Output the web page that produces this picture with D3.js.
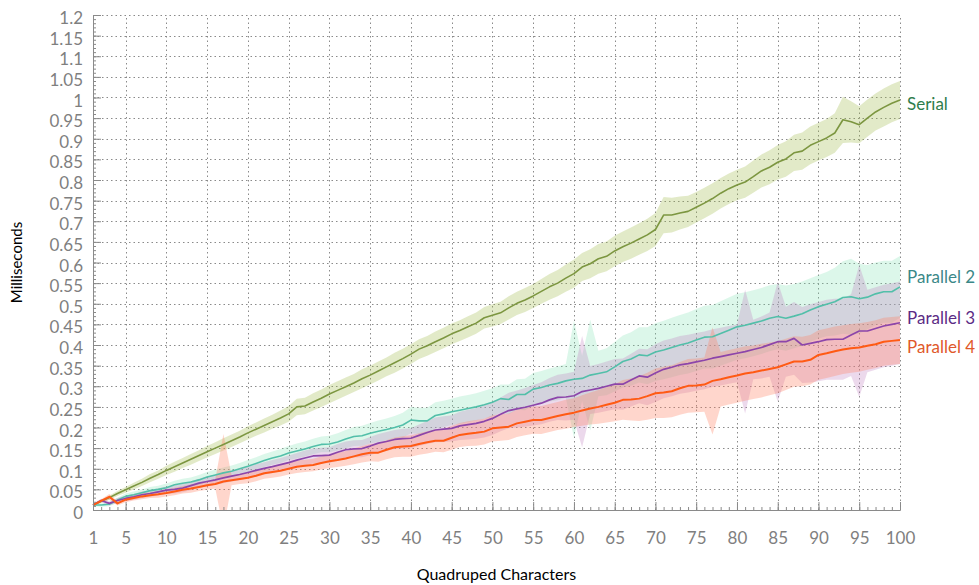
<!DOCTYPE html>
<html>
<head>
<meta charset="utf-8">
<script src="https://cdn.jsdelivr.net/npm/d3@7"></script>
<style>
  body { margin: 0; background: #fff; }
  svg.chart text { font-family: Lato, "Open Sans", sans-serif; }
</style>
</head>
<body>
<svg class="chart"></svg>
<script>
// Input sizes (x axis)
const sizes = d3.range(1, 101);

// Mean times in ms, one per size
const serialMs = [
  0.012,0.021,0.030,0.040,0.049,0.058,0.067,0.077,0.086,0.096,
  0.105,0.114,0.123,0.132,0.141,0.150,0.159,0.168,0.177,0.187,
  0.196,0.205,0.214,0.223,0.233,0.250,0.252,0.262,0.271,0.281,
  0.290,0.299,0.308,0.318,0.327,0.337,0.347,0.357,0.367,0.378,
  0.390,0.398,0.408,0.417,0.427,0.435,0.444,0.453,0.466,0.472,
  0.478,0.490,0.501,0.509,0.519,0.530,0.541,0.550,0.562,0.573,
  0.589,0.597,0.609,0.615,0.628,0.638,0.647,0.657,0.667,0.680,
  0.715,0.715,0.720,0.724,0.734,0.744,0.755,0.768,0.779,0.788,
  0.795,0.808,0.822,0.831,0.843,0.851,0.866,0.870,0.884,0.893,
  0.902,0.914,0.946,0.941,0.934,0.950,0.965,0.976,0.986,0.994
];
const parallel2Ms = [
  0.012,0.012,0.014,0.024,0.033,0.037,0.042,0.047,0.050,0.054,
  0.061,0.065,0.068,0.073,0.080,0.085,0.090,0.094,0.100,0.106,
  0.113,0.120,0.126,0.131,0.138,0.143,0.148,0.154,0.159,0.160,
  0.165,0.172,0.178,0.180,0.186,0.191,0.195,0.200,0.206,0.218,
  0.216,0.216,0.229,0.233,0.238,0.242,0.246,0.250,0.255,0.261,
  0.270,0.268,0.280,0.280,0.293,0.297,0.303,0.307,0.313,0.317,
  0.319,0.327,0.331,0.335,0.347,0.360,0.366,0.376,0.374,0.383,
  0.388,0.394,0.400,0.405,0.412,0.419,0.420,0.428,0.436,0.444,
  0.448,0.453,0.458,0.465,0.469,0.465,0.470,0.476,0.485,0.493,
  0.499,0.505,0.515,0.517,0.512,0.516,0.524,0.529,0.529,0.541
];
const parallel3Ms = [
  0.012,0.023,0.016,0.023,0.028,0.032,0.037,0.040,0.044,0.048,
  0.050,0.053,0.059,0.065,0.069,0.073,0.078,0.082,0.086,0.091,
  0.096,0.101,0.105,0.110,0.115,0.121,0.126,0.131,0.132,0.133,
  0.140,0.146,0.148,0.149,0.155,0.162,0.166,0.171,0.173,0.174,
  0.181,0.188,0.194,0.196,0.198,0.204,0.207,0.210,0.215,0.222,
  0.232,0.241,0.245,0.249,0.254,0.259,0.267,0.273,0.274,0.277,
  0.287,0.291,0.295,0.300,0.305,0.305,0.315,0.325,0.322,0.332,
  0.341,0.346,0.352,0.355,0.359,0.363,0.368,0.372,0.376,0.380,
  0.384,0.389,0.394,0.401,0.408,0.408,0.416,0.400,0.404,0.408,
  0.413,0.414,0.414,0.424,0.434,0.434,0.440,0.446,0.450,0.454
];
const parallel4Ms = [
  0.012,0.022,0.032,0.016,0.025,0.029,0.033,0.036,0.038,0.041,
  0.045,0.049,0.052,0.056,0.060,0.063,0.069,0.072,0.075,0.078,
  0.083,0.089,0.092,0.095,0.100,0.105,0.107,0.109,0.114,0.118,
  0.121,0.125,0.130,0.135,0.139,0.139,0.146,0.152,0.154,0.155,
  0.160,0.164,0.168,0.168,0.175,0.182,0.185,0.187,0.190,0.198,
  0.200,0.202,0.210,0.214,0.218,0.218,0.223,0.228,0.232,0.236,
  0.241,0.246,0.250,0.255,0.260,0.267,0.268,0.270,0.276,0.283,
  0.285,0.288,0.295,0.301,0.302,0.304,0.313,0.317,0.322,0.326,
  0.331,0.334,0.338,0.342,0.346,0.353,0.360,0.360,0.364,0.376,
  0.380,0.385,0.389,0.392,0.394,0.398,0.402,0.408,0.410,0.412
];

// Half width of the spread band around each mean
const serialDev = [
  0.003,0.004,0.005,0.006,0.007,0.008,0.009,0.010,0.010,0.011,
  0.012,0.012,0.013,0.013,0.014,0.014,0.015,0.015,0.015,0.016,
  0.016,0.017,0.017,0.018,0.019,0.020,0.020,0.021,0.021,0.022,
  0.022,0.022,0.022,0.023,0.023,0.023,0.023,0.024,0.024,0.024,
  0.024,0.024,0.025,0.025,0.025,0.025,0.026,0.026,0.026,0.027,
  0.027,0.028,0.028,0.029,0.029,0.030,0.031,0.032,0.033,0.034,
  0.034,0.035,0.036,0.036,0.037,0.037,0.038,0.038,0.039,0.040,
  0.044,0.042,0.040,0.038,0.037,0.037,0.037,0.037,0.037,0.037,
  0.038,0.039,0.040,0.041,0.042,0.043,0.044,0.045,0.046,0.046,
  0.046,0.048,0.056,0.050,0.045,0.045,0.045,0.046,0.046,0.046
];
const parallel2Dev = [
  0.003,0.004,0.005,0.006,0.007,0.008,0.008,0.009,0.009,0.010,
  0.010,0.011,0.011,0.012,0.012,0.013,0.013,0.014,0.014,0.015,
  0.015,0.016,0.016,0.017,0.017,0.018,0.018,0.019,0.019,0.020,
  0.021,0.022,0.023,0.024,0.025,0.026,0.027,0.028,0.030,0.032,
  0.032,0.032,0.032,0.032,0.032,0.033,0.033,0.033,0.034,0.034,
  0.034,0.036,0.037,0.038,0.039,0.040,0.040,0.041,0.041,0.142,
  0.055,0.134,0.055,0.057,0.060,0.063,0.065,0.067,0.069,0.070,
  0.071,0.072,0.073,0.074,0.075,0.076,0.077,0.078,0.079,0.080,
  0.080,0.080,0.080,0.080,0.079,0.079,0.078,0.078,0.077,0.077,
  0.078,0.082,0.088,0.092,0.085,0.078,0.076,0.075,0.075,0.075
];
const parallel3Dev = [
  0.003,0.004,0.005,0.006,0.007,0.007,0.008,0.008,0.009,0.009,
  0.010,0.010,0.011,0.011,0.012,0.012,0.013,0.013,0.014,0.014,
  0.015,0.015,0.016,0.016,0.017,0.017,0.018,0.018,0.019,0.019,
  0.020,0.020,0.021,0.021,0.022,0.022,0.023,0.023,0.024,0.024,
  0.026,0.028,0.030,0.031,0.032,0.034,0.036,0.037,0.039,0.040,
  0.041,0.043,0.045,0.047,0.049,0.051,0.053,0.055,0.057,0.058,
  0.135,0.058,0.059,0.060,0.061,0.062,0.064,0.066,0.068,0.070,
  0.070,0.070,0.070,0.070,0.070,0.070,0.070,0.070,0.070,0.070,
  0.150,0.072,0.075,0.078,0.145,0.085,0.088,0.092,0.095,0.096,
  0.097,0.098,0.098,0.099,0.160,0.100,0.100,0.100,0.100,0.100
];
const parallel4Dev = [
  0.003,0.004,0.007,0.005,0.006,0.006,0.007,0.007,0.008,0.008,
  0.009,0.009,0.010,0.010,0.011,0.011,0.115,0.012,0.012,0.013,
  0.013,0.013,0.014,0.014,0.014,0.015,0.015,0.015,0.016,0.016,
  0.017,0.018,0.019,0.020,0.021,0.022,0.023,0.024,0.025,0.026,
  0.026,0.027,0.027,0.028,0.029,0.029,0.030,0.031,0.031,0.032,
  0.032,0.032,0.033,0.033,0.033,0.034,0.034,0.034,0.035,0.035,
  0.037,0.039,0.041,0.043,0.045,0.048,0.051,0.054,0.057,0.060,
  0.062,0.063,0.064,0.065,0.065,0.066,0.130,0.066,0.066,0.066,
  0.066,0.065,0.065,0.064,0.063,0.062,0.061,0.060,0.060,0.060,
  0.060,0.060,0.059,0.059,0.059,0.058,0.058,0.058,0.058,0.058
];

const seriesNames = ['Serial', 'Parallel 2', 'Parallel 3', 'Parallel 4'];
// Value where each end label sits
const labelAt = [0.985, 0.565, 0.465, 0.395];

const xTickValues = [1, 5, 10, 15, 20, 25, 30, 35, 40, 45, 50, 55, 60, 65, 70, 75, 80, 85, 90, 95, 100];
const yTickValues = [0, 0.05, 0.1, 0.15, 0.2, 0.25, 0.3, 0.35, 0.4, 0.45, 0.5, 0.55, 0.6,
  0.65, 0.7, 0.75, 0.8, 0.85, 0.9, 0.95, 1, 1.05, 1.1, 1.15, 1.2];

const series = [
  { name: seriesNames[0], mean: serialMs, dev: serialDev, label: labelAt[0],
    line: '#7c9640', band: '#9fb84a', bandOpacity: 0.3, text: '#2f7d4c', width: 1.6 },
  { name: seriesNames[1], mean: parallel2Ms, dev: parallel2Dev, label: labelAt[1],
    line: '#52bfa9', band: '#7fe0b0', bandOpacity: 0.27, text: '#3b8888', width: 1.6 },
  { name: seriesNames[2], mean: parallel3Ms, dev: parallel3Dev, label: labelAt[2],
    line: '#8c45aa', band: '#c080c0', bandOpacity: 0.3, text: '#5b2b85', width: 1.7 },
  { name: seriesNames[3], mean: parallel4Ms, dev: parallel4Dev, label: labelAt[3],
    line: '#ff5a14', band: '#ff8060', bandOpacity: 0.32, text: '#e0582a', width: 2 },
];

const width = 979;
const height = 585;

const svg = d3.select('svg.chart')
  .attr('width', width)
  .attr('height', height);

const x = d3.scaleLinear().domain([1, 100]).range([93, 900]);
const y = d3.scaleLinear().domain([0, 1.2]).range([510, 15]);

//Clip bands to the plot area
svg.append('defs').append('clipPath')
    .attr('id', 'plot-clip')
  .append('rect')
    .attr('x', x(1))
    .attr('y', y(1.2))
    .attr('width', x(100) - x(1))
    .attr('height', y(0) - y(1.2));

//Dotted grid
const grid = svg.append('g').attr('class', 'grid')
  .attr('stroke', '#8a8a8a')
  .attr('stroke-width', 1)
  .attr('stroke-dasharray', '1.5,3');

grid.selectAll('line.h')
  .data(yTickValues.filter(d => d > 0))
  .enter()
  .append('line')
    .classed('h', true)
    .attr('x1', x(1))
    .attr('x2', x(100))
    .attr('y1', d => Math.round(y(d)) + 0.5)
    .attr('y2', d => Math.round(y(d)) + 0.5);

grid.selectAll('line.v')
  .data(xTickValues.filter(d => d > 1))
  .enter()
  .append('line')
    .classed('v', true)
    .attr('y1', y(0))
    .attr('y2', y(1.2))
    .attr('x1', d => Math.round(x(d)) + 0.5)
    .attr('x2', d => Math.round(x(d)) + 0.5);

//Bands
const area = d3.area()
  .x((d, i) => x(sizes[i]))
  .y0(d => y(d[0] - d[1]))
  .y1(d => y(d[0] + d[1]));

const bands = svg.append('g').attr('clip-path', 'url(#plot-clip)');
series.forEach(s => {
  bands.append('path')
    .datum(s.mean.map((m, i) => [m, s.dev[i]]))
    .attr('d', area)
    .attr('fill', s.band)
    .attr('fill-opacity', s.bandOpacity);
});

//Mean lines
const line = d3.line()
  .x((d, i) => x(sizes[i]))
  .y(d => y(d));

series.forEach(s => {
  svg.append('path')
    .datum(s.mean)
    .attr('d', line)
    .attr('fill', 'none')
    .attr('stroke', s.line)
    .attr('stroke-width', s.width)
    .attr('stroke-linejoin', 'round');
});

//Axes: minor ticks every unit, major ticks with labels
const axisColor = '#8a8a8a';

const xMinor = svg.append('g')
  .attr('transform', `translate(0,${y(0)})`)
  .call(d3.axisBottom(x).tickValues(sizes).tickSize(-3).tickSizeOuter(0).tickFormat(''));

const xMajor = svg.append('g')
  .attr('transform', `translate(0,${y(0)})`)
  .call(d3.axisBottom(x).tickValues(xTickValues).tickSize(-8).tickSizeOuter(0).tickFormat(d3.format('d')));

xMajor.selectAll('text')
  .attr('y', 34)
  .attr('dy', null);

const yMinor = svg.append('g')
  .attr('transform', `translate(${x(1)},0)`)
  .call(d3.axisLeft(y).tickValues(d3.range(0, 121).map(d => d / 100)).tickSize(-3).tickSizeOuter(0).tickFormat(''));

const yMajor = svg.append('g')
  .attr('transform', `translate(${x(1)},0)`)
  .call(d3.axisLeft(y).tickValues(yTickValues).tickSize(-8).tickSizeOuter(0).tickFormat(d3.format('~g')));

yMajor.selectAll('text')
  .attr('x', -10)
  .attr('dy', '0.5em');

[xMinor, xMajor, yMinor, yMajor].forEach(g => {
  g.selectAll('path, line').attr('stroke', axisColor);
  g.selectAll('text')
    .attr('fill', '#7f7f7f')
    .style('font-size', '17px')
    .style('font-family', 'Lato, "Open Sans", sans-serif');
});

//Axis titles
svg.append('text')
  .attr('transform', `translate(22,${(y(0) + y(1.2)) / 2}) rotate(-90)`)
  .attr('text-anchor', 'middle')
  .style('font-size', '15px')
  .attr('fill', '#000')
  .text('Milliseconds');

svg.append('text')
  .attr('x', (x(1) + x(100)) / 2)
  .attr('y', 580)
  .attr('text-anchor', 'middle')
  .style('font-size', '16px')
  .attr('fill', '#000')
  .text('Quadruped Characters');

//End labels
svg.selectAll('text.series-label')
  .data(series)
  .enter()
  .append('text')
    .classed('series-label', true)
    .attr('x', 907)
    .attr('y', d => y(d.label))
    .attr('dy', '0.35em')
    .attr('fill', d => d.text)
    .style('font-size', '17px')
    .text(d => d.name);
</script>
</body>
</html>
